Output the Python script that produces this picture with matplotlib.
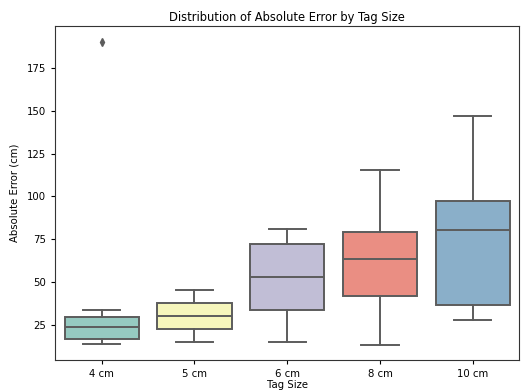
import matplotlib
matplotlib.use("Agg")
import matplotlib.pyplot as plt
import seaborn as sns

# box statistics
tag_sizes = ['4 cm', '5 cm', '6 cm', '8 cm', '10 cm']
whislo = [13.7, 15.2, 14.9, 13.5, 27.7]
q1 = [16.6, 22.8, 33.5, 42.1, 36.5]
med = [24.0, 30.2, 53.0, 63.3, 80.3]
q3 = [29.7, 37.8, 72.1, 79.3, 97.2]
whishi = [33.7, 45.4, 81.0, 115.3, 147.2]
fliers = [[190.5], [], [], [], []]

colors = [sns.desaturate(c, 0.75) for c in sns.color_palette('Set3', 5)]
line_color = '#5c5c5c'

stats = []
for i, name in enumerate(tag_sizes):
    stats.append({'label': name, 'whislo': whislo[i], 'q1': q1[i], 'med': med[i],
                  'q3': q3[i], 'whishi': whishi[i], 'fliers': fliers[i]})

fig, ax = plt.subplots(figsize=(5.26, 3.9), dpi=100)
bp = ax.bxp(stats, positions=range(len(stats)), widths=0.8, patch_artist=True,
            showfliers=True,
            boxprops=dict(edgecolor=line_color, linewidth=1.4),
            medianprops=dict(color=line_color, linewidth=1.4),
            whiskerprops=dict(color=line_color, linewidth=1.4),
            capprops=dict(color=line_color, linewidth=1.4),
            flierprops=dict(marker='d', markerfacecolor=line_color,
                            markeredgecolor=line_color, markersize=4))
for patch, c in zip(bp['boxes'], colors):
    patch.set_facecolor(c)
for i, cap in enumerate(bp['caps']):
    cap.set_xdata([i // 2 - 0.2, i // 2 + 0.2])

ax.set_xlim(-0.5, 4.5)
ax.set_ylim(4.5, 199.5)
ax.set_yticks([25, 50, 75, 100, 125, 150, 175])
ax.tick_params(labelsize=7.3, length=3, width=0.8)
ax.set_title('Distribution of Absolute Error by Tag Size', fontsize=8.3, pad=4)
ax.set_xlabel('Tag Size', fontsize=7.3, labelpad=1)
ax.set_ylabel('Absolute Error (cm)', fontsize=7.3, labelpad=5)
for s in ax.spines.values():
    s.set_color('#333333')
    s.set_linewidth(0.8)

fig.subplots_adjust(left=0.105, right=0.987, top=0.933, bottom=0.077)
fig.savefig('out.png', dpi=100)
